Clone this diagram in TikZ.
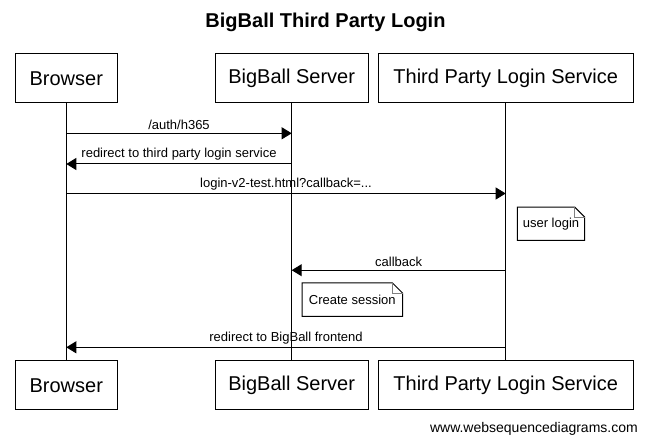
\documentclass[tikz,border=0pt]{standalone}
\usepackage{fontspec}
\setmainfont{Liberation Sans}
\usetikzlibrary{arrows.meta,calc}
\begin{document}
\begin{tikzpicture}[x=1pt,y=-1pt,
  actor/.style={draw=black,line width=1pt,minimum width=#1,minimum height=49pt,inner sep=0pt,font=\fontsize{20}{24}\selectfont},
  lifeline/.style={draw=black,line width=1pt},
  msg/.style={draw=black,line width=1pt,-{Triangle[length=10pt,width=12pt]}},
  mlabel/.style={font=\fontsize{13}{15}\selectfont,inner sep=0pt,anchor=south,yshift=3pt},
  notebox/.style={inner sep=0pt,minimum width=#1,minimum height=33pt,font=\fontsize{13}{15}\selectfont}
]
\useasboundingbox (0,0) rectangle (647,443);
\fill[white] (0,0) rectangle (647,443);
% title
\node[font=\bfseries\fontsize{20}{24}\selectfont] (title) at (325.5,22) {BigBall Third Party Login};
% actors top
\node[actor=102pt] (b1) at (66.3,78.3) {Browser};
\node[actor=153pt] (s1) at (291.7,78.3) {BigBall Server};
\node[actor=255pt] (t1) at (505.7,78.3) {Third Party Login Service};
% actors bottom
\node[actor=102pt] (b2) at (66.3,385.3) {Browser};
\node[actor=153pt] (s2) at (291.7,385.3) {BigBall Server};
\node[actor=255pt] (t2) at (505.7,385.3) {Third Party Login Service};
% lifelines
\draw[lifeline] (b1.south) -- (b2.north);
\draw[lifeline] (s1.south) -- (s2.north);
\draw[lifeline] (t1.south) -- (t2.north);
% message rows
\coordinate (m1) at (0,133.3);
\coordinate (m2) at (0,164);
\coordinate (m3) at (0,193.5);
\coordinate (m4) at (0,270.2);
\coordinate (m5) at (0,347.3);
\draw[msg] (b1.south |- m1) -- node[mlabel] {/auth/h365} (s1.south |- m1);
\draw[msg] (s1.south |- m2) -- node[mlabel] {redirect to third party login service} (b1.south |- m2);
\draw[msg] (b1.south |- m3) -- node[mlabel] {login-v2-test.html?callback=...} (t1.south |- m3);
\draw[msg] (t1.south |- m4) -- node[mlabel] {callback} (s1.south |- m4);
\draw[msg] (t1.south |- m5) -- node[mlabel] {redirect to BigBall frontend} (b1.south |- m5);
% notes
\node[notebox=67pt] (n1) at (551,223.8) {user login};
\node[notebox=100pt] (n2) at (352.3,299.7) {Create session};
\foreach \n in {n1,n2}{
  \draw[black,line width=1pt] (\n.north west) -- ($(\n.north east)+(-10,0)$) -- ($(\n.north east)+(0,10)$) -- (\n.south east) -- (\n.south west) -- cycle;
  \draw[gray,line width=0.8pt] ($(\n.north east)+(-10,0)$) -- ($(\n.north east)+(-10,10)$) -- ($(\n.north east)+(0,10)$);
}
% footer
\node[font=\fontsize{14}{16}\selectfont,anchor=east,inner sep=0pt] (foot) at (638,429) {www.websequencediagrams.com};
\end{tikzpicture}
\end{document}
